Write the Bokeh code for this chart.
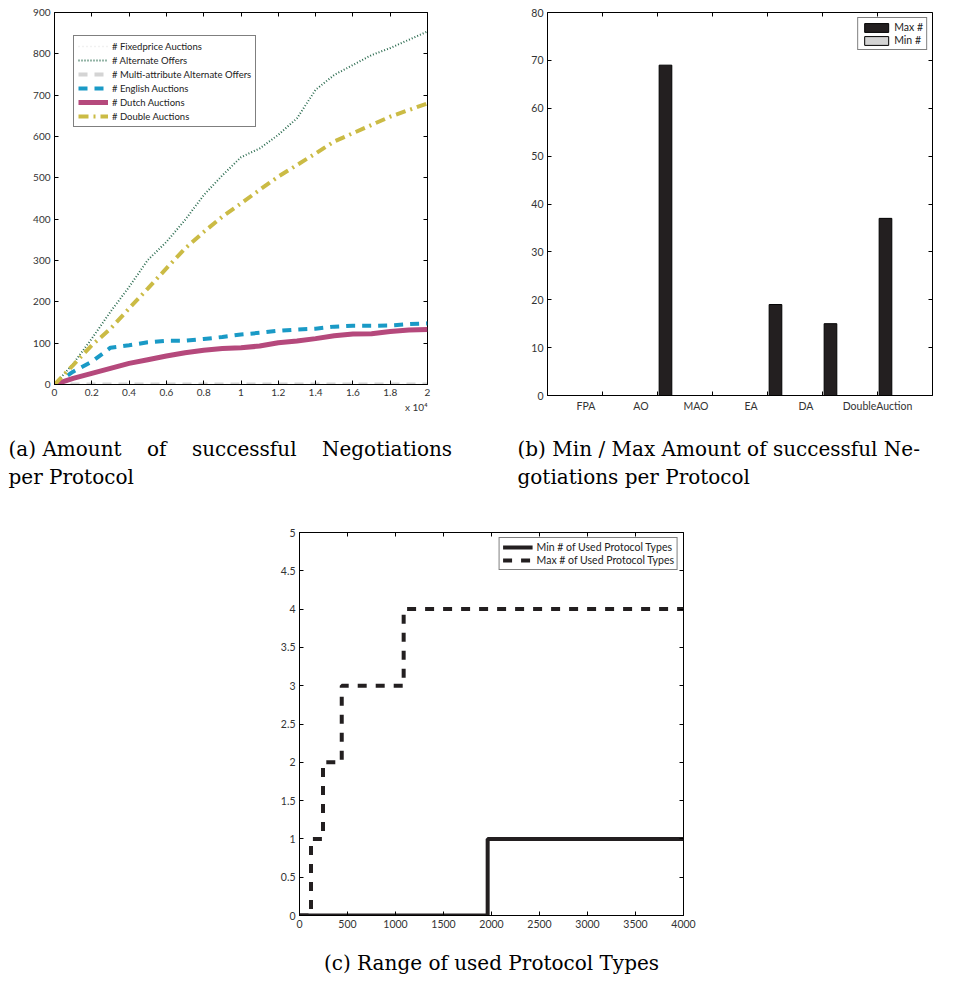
from bokeh.plotting import figure
from bokeh.layouts import column, row
from bokeh.models import FixedTicker, LinearAxis, Title, Spacer, ColumnDataSource, Range1d
from bokeh.transform import dodge
from bokeh.embed import file_html
from bokeh.resources import INLINE

# ---------------- data (a): cumulative successful negotiations ----------------
sim_time = [0, 1000, 2000, 3000, 4000, 5000, 6000, 7000, 8000, 9000, 10000,
            11000, 12000, 13000, 14000, 15000, 16000, 17000, 18000, 19000, 20000]
fixedprice = [0, 0, 0, 0, 0, 0, 0, 0, 0, 0, 0, 0, 0, 0, 0, 0, 0, 0, 0, 0, 0]
alternate_offers = [0, 50, 111, 176, 236, 301, 345, 398, 458, 506, 550,
                    571, 604, 644, 713, 749, 773, 797, 814, 834, 854]
multi_attribute = [0, 0, 0, 0, 0, 0, 0, 0, 0, 0, 0, 0, 0, 0, 0, 0, 0, 0, 0, 0, 0]
english = [0, 31, 55, 89, 95, 102, 106, 106, 110, 115, 121,
           125, 130, 133, 135, 140, 142, 142, 143, 146, 148]
dutch = [0, 15, 27, 39, 51, 60, 69, 77, 83, 87, 89,
         93, 101, 105, 111, 118, 122, 123, 128, 132, 133]
double_auctions = [0, 47, 95, 135, 184, 232, 281, 329, 369, 406, 438,
                   471, 503, 531, 559, 588, 608, 628, 648, 664, 680]
a_xticks = [0, 2000, 4000, 6000, 8000, 10000, 12000, 14000, 16000, 18000, 20000]
a_yticks = [0, 100, 200, 300, 400, 500, 600, 700, 800, 900]

# ---------------- data (b): min / max per protocol ----------------
protocols = ["FPA", "AO", "MAO", "EA", "DA", "DoubleAuction"]
max_counts = [0, 69, 0, 19, 15, 37]
min_counts = [0, 0, 0, 0, 0, 0]
b_yticks = [0, 10, 20, 30, 40, 50, 60, 70, 80]

# ---------------- data (c): range of used protocol types ----------------
max_types_x = [0, 120, 245, 440, 1085, 4000]
max_types = [0, 1, 2, 3, 4, 4]
min_types_x = [0, 1960, 4000]
min_types = [0, 1, 1]
c_xticks = [0, 500, 1000, 1500, 2000, 2500, 3000, 3500, 4000]
c_yticks = [0, 0.5, 1, 1.5, 2, 2.5, 3, 3.5, 4, 4.5, 5]

INK = "#231f20"
TICK_FONT = "Lato"
CAP_FONT = "DejaVu Serif"
NB = "\u00a0"


def style_axis(ax, size="10px"):
    ax.axis_line_color = "black"
    ax.major_tick_in = 4
    ax.major_tick_out = 0
    ax.minor_tick_line_color = None
    ax.major_tick_line_color = "black"
    ax.major_label_text_font = TICK_FONT
    ax.major_label_text_color = "#333333"
    ax.major_label_text_font_size = size
    ax.major_label_standoff = 4


def box(p, xticks, yticks):
    p.outline_line_color = "black"
    p.outline_line_width = 1
    p.xgrid.visible = False
    p.ygrid.visible = False
    for ticks, side in ((yticks, "right"), (xticks, "above")):
        ax = LinearAxis(ticker=FixedTicker(ticks=ticks))
        style_axis(ax)
        ax.major_label_overrides = {t: "" for t in ticks}
        ax.major_label_text_font_size = "1px"
        ax.major_label_standoff = 0
        ax.axis_line_color = None
        p.add_layout(ax, side)


def style_legend(lg, font_size="9.5px"):
    lg.border_line_color = "black"
    lg.border_line_width = 1
    lg.background_fill_color = "white"
    lg.background_fill_alpha = 1
    lg.label_text_font = TICK_FONT
    lg.label_text_font_size = font_size
    lg.label_text_color = "#222222"
    lg.glyph_width = 30


def caption(text):
    return dict(text=text, text_font=CAP_FONT, text_font_size="20px",
                text_font_style="normal", text_color="black", text_line_height=1.2)


# ================= (a) =================
pa = figure(frame_width=373, frame_height=372, x_range=Range1d(0, 20000), y_range=Range1d(0, 900),
            output_backend="svg", toolbar_location=None,
            min_border_left=54, min_border_right=51, min_border_top=12, min_border_bottom=0)
pa.xaxis.ticker = FixedTicker(ticks=a_xticks)
pa.xaxis.major_label_overrides = {t: f"{t / 10000:g}" for t in a_xticks}
pa.yaxis.ticker = FixedTicker(ticks=a_yticks)
style_axis(pa.xaxis[0])
style_axis(pa.yaxis[0])
box(pa, a_xticks, a_yticks)

pa.line(sim_time, fixedprice, line_color="#e4e4e4", line_width=1.5, line_dash="1 3",
        legend_label="# Fixedprice Auctions")
pa.line(sim_time, alternate_offers, line_color="#2a6b4f", line_width=2, line_dash="1 2",
        legend_label="# Alternate Offers")
pa.line(sim_time, multi_attribute, line_color="#d4d4d4", line_width=4, line_dash="9 7",
        legend_label="# Multi-attribute Alternate Offers")
pa.line(sim_time, english, line_color="#1a9ac6", line_width=4, line_dash="9 7",
        legend_label="# English Auctions")
pa.line(sim_time, dutch, line_color="#b5497c", line_width=5,
        legend_label="# Dutch Auctions")
pa.line(sim_time, double_auctions, line_color="#cbbb45", line_width=4, line_dash="10 5 2 5",
        legend_label="# Double Auctions")
lga = pa.legend[0]
style_legend(lga)
lga.location = (19, 257)
lga.padding = 4
lga.spacing = 2
lga.label_height = 12
lga.glyph_height = 12
lga.label_standoff = 4

pa.add_layout(Title(text="x 10\u2074", align="right", offset=0, standoff=0,
                    text_font=TICK_FONT, text_font_size="10px", text_font_style="normal",
                    text_color="#333333"), "below")
cap_a = NB.join(["(a)", "Amount", "", "", "", "of", "", "", "", "successful", "", "", "",
                 "Negotiations"]) + "\nper Protocol"
pa.add_layout(Title(align="left", offset=-46, standoff=44, **caption(cap_a)), "below")

# ================= (b) =================
pb = figure(frame_width=385, frame_height=383, x_range=Range1d(0, 7), y_range=Range1d(0, 80),
            output_backend="svg", toolbar_location=None,
            min_border_left=69, min_border_right=13, min_border_top=12, min_border_bottom=0)
tick_pos = [i + 1 for i in range(len(protocols))]
label_pos = [round(p - (0.0 if len(name) > 8 else 0.3), 2) for p, name in zip(tick_pos, protocols)]
pb.xaxis.ticker = FixedTicker(ticks=label_pos, minor_ticks=tick_pos)
pb.xaxis.major_label_overrides = {lp: name for lp, name in zip(label_pos, protocols)}
pb.yaxis.ticker = FixedTicker(ticks=b_yticks)
style_axis(pb.xaxis[0], size="10.5px")
style_axis(pb.yaxis[0], size="10.5px")
pb.xaxis[0].major_tick_line_color = None
pb.xaxis[0].minor_tick_line_color = "black"
pb.xaxis[0].minor_tick_in = 4
pb.xaxis[0].minor_tick_out = 0
box(pb, tick_pos, b_yticks)

src_b = ColumnDataSource(dict(pos=tick_pos, mx=max_counts, mn=min_counts))
pb.vbar(x=dodge("pos", 0.145), top="mx", width=0.23, source=src_b,
        fill_color=INK, line_color="black", legend_label="Max #")
pb.vbar(x=dodge("pos", -0.145), top="mn", width=0.23, source=src_b,
        fill_color="#d4d4d4", line_color="black", legend_label="Min #")
lgb = pb.legend[0]
style_legend(lgb, "10.5px")
lgb.location = "top_right"
lgb.margin = 5
lgb.padding = 3
lgb.spacing = 1
lgb.glyph_height = 11
lgb.label_height = 11
lgb.label_standoff = 3

cap_b = "(b) Min / Max Amount of successful Ne-\ngotiations per Protocol"
pb.add_layout(Title(align="left", offset=-30, standoff=40, **caption(cap_b)), "below")

# ================= (c) =================
pc = figure(frame_width=384, frame_height=383, x_range=Range1d(0, 4000), y_range=Range1d(0, 5),
            output_backend="svg", toolbar_location=None,
            min_border_left=49, min_border_right=20, min_border_top=21, min_border_bottom=0)
pc.xaxis.ticker = FixedTicker(ticks=c_xticks)
pc.yaxis.ticker = FixedTicker(ticks=c_yticks)
style_axis(pc.xaxis[0], size="10.5px")
style_axis(pc.yaxis[0], size="10.5px")
pc.xaxis[0].axis_label = "(c) Range of used Protocol Types"
pc.xaxis[0].axis_label_text_font = CAP_FONT
pc.xaxis[0].axis_label_text_font_size = "20px"
pc.xaxis[0].axis_label_text_font_style = "normal"
pc.xaxis[0].axis_label_text_color = "black"
pc.xaxis[0].axis_label_standoff = 20
box(pc, c_xticks, c_yticks)
pc.step(min_types_x, min_types, mode="after", line_color=INK, line_width=4,
        legend_label="Min # of Used Protocol Types")
pc.step(max_types_x, max_types, mode="after", line_color=INK, line_width=4, line_dash="9 9",
        legend_label="Max # of Used Protocol Types")
lgc = pc.legend[0]
style_legend(lgc, "10.5px")
lgc.location = "top_right"
lgc.margin = 5
lgc.padding = 3
lgc.spacing = 1
lgc.glyph_height = 12
lgc.label_height = 12
lgc.label_standoff = 4

layout = column(row(pa, pb), row(Spacer(width=250, height=10), pc))
open("out.html", "w").write(file_html(layout, INLINE))
